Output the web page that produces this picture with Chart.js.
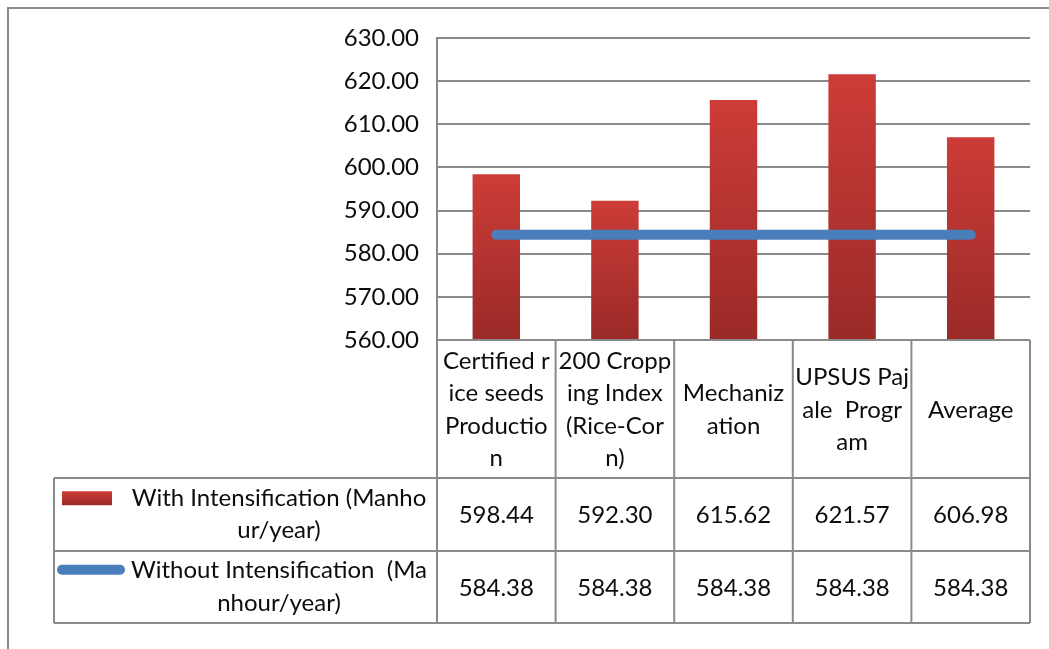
<!DOCTYPE html>
<html>
<head>
<meta charset="utf-8">
<script src="https://cdn.jsdelivr.net/npm/chart.js@4.4.1/dist/chart.umd.min.js"></script>
<style>
  html, body { margin: 0; padding: 0; background: #fff; }
  #wrap { width: 1049px; height: 649px; }
</style>
</head>
<body>
<div id="wrap"><canvas id="chart" width="1049" height="649"></canvas></div>
<script>
// Category labels, already broken the way the data table wraps them
const categories = [
    ['Certified r', 'ice seeds', 'Productio', 'n'],
    ['200 Cropp', 'ing Index', '(Rice-Cor', 'n)'],
    ['Mechaniz', 'ation'],
    ['UPSUS Paj', 'ale  Progr', 'am'],
    ['Average']
];

// Series values (manhour/year)
const withIntensification = [598.44, 592.30, 615.62, 621.57, 606.98];
const withoutIntensification = [584.38, 584.38, 584.38, 584.38, 584.38];

// Series names as shown in the table's legend column
const seriesNames = [
    ['With Intensification (Manho', 'ur/year)'],
    ['Without Intensification  (Ma', 'nhour/year)']
];

// Value axis
const yMin = 560;
const yMax = 630;
const yStep = 10;

const FONT = '24px Lato';
const TEXT = '#0d0d0d';
const LINE = '#8a8a8a';
const BLUE = '#4a7ebb';

function redGradient(ctx, top, bottom) {
    const g = ctx.createLinearGradient(0, top, 0, bottom);
    g.addColorStop(0, '#cd3c38');
    g.addColorStop(1, '#9a2a27');
    return g;
}

// Outer frame of the chart object
const framePlugin = {
    id: 'frame',
    beforeDraw(chart) {
        const ctx = chart.ctx;
        ctx.save();
        ctx.fillStyle = '#fff';
        ctx.fillRect(0, 0, chart.width, chart.height);
        ctx.strokeStyle = LINE;
        ctx.lineWidth = 2;
        ctx.strokeRect(8, 8, chart.width + 20, chart.height + 20);
        ctx.restore();
    }
};

// Data table under the plot
const tablePlugin = {
    id: 'dataTable',
    afterDraw(chart) {
        const ctx = chart.ctx;
        const area = chart.chartArea;
        const xs = chart.scales.x;
        const n = categories.length;
        const legendLeft = 54;
        const headerBottom = area.bottom + 138;
        const row1Bottom = headerBottom + 73;
        const row2Bottom = row1Bottom + 72;

        // column edges from the category scale
        const centers = categories.map((c, i) => xs.getPixelForValue(i));
        const edges = [area.left];
        for (let i = 1; i < n; i++) edges.push((centers[i - 1] + centers[i]) / 2);
        edges.push(area.right);

        ctx.save();
        ctx.strokeStyle = LINE;
        ctx.lineWidth = 2;
        ctx.beginPath();
        // horizontal lines
        ctx.moveTo(area.left, area.bottom); ctx.lineTo(area.right, area.bottom);
        [headerBottom, row1Bottom, row2Bottom].forEach(y => {
            ctx.moveTo(legendLeft, y); ctx.lineTo(area.right, y);
        });
        // vertical lines
        edges.forEach(x => { ctx.moveTo(x, area.bottom); ctx.lineTo(x, row2Bottom); });
        ctx.moveTo(legendLeft, headerBottom); ctx.lineTo(legendLeft, row2Bottom);
        ctx.stroke();

        ctx.fillStyle = TEXT;
        ctx.font = FONT;
        ctx.textAlign = 'center';
        ctx.textBaseline = 'middle';
        const lh = 32.5;

        // header cells
        const headMid = (area.bottom + headerBottom) / 2 + 1;
        categories.forEach((lines, i) => {
            const y0 = headMid - (lines.length - 1) * lh / 2;
            lines.forEach((t, k) => ctx.fillText(t, centers[i], y0 + k * lh));
        });

        // value rows
        const rows = [
            { vals: withIntensification, top: headerBottom, bottom: row1Bottom },
            { vals: withoutIntensification, top: row1Bottom, bottom: row2Bottom }
        ];
        rows.forEach((r, ri) => {
            const mid = (r.top + r.bottom) / 2;
            r.vals.forEach((v, i) => ctx.fillText(v.toFixed(2), centers[i], mid + 1));
            const names = seriesNames[ri];
            const y0 = mid - (names.length - 1) * lh / 2;
            names.forEach((t, k) => ctx.fillText(t, 279, y0 + k * lh));
            // legend keys
            if (ri === 0) {
                ctx.fillStyle = redGradient(ctx, y0 - 7, y0 + 7);
                ctx.fillRect(62, y0 - 7, 50, 14);
                ctx.fillStyle = TEXT;
            } else {
                ctx.strokeStyle = BLUE;
                ctx.lineWidth = 10;
                ctx.lineCap = 'round';
                ctx.beginPath();
                ctx.moveTo(62, y0 - 1);
                ctx.lineTo(120, y0 - 1);
                ctx.stroke();
            }
        });
        ctx.restore();
    }
};

const ctx = document.getElementById('chart').getContext('2d');
const chart = new Chart(ctx, {
    type: 'bar',
    data: {
        labels: categories,
        datasets: [
            {
                type: 'line',
                label: seriesNames[1].join(''),
                data: withoutIntensification,
                borderColor: BLUE,
                borderWidth: 10,
                borderCapStyle: 'round',
                pointRadius: 0,
                tension: 0,
                order: 0
            },
            {
                type: 'bar',
                label: seriesNames[0].join(''),
                data: withIntensification,
                backgroundColor: function(c) {
                    const ch = c.chart;
                    if (!ch.chartArea || c.type !== 'data') return '#b83331';
                    const top = ch.scales.y.getPixelForValue(c.raw);
                    return redGradient(ch.ctx, top, ch.chartArea.bottom);
                },
                borderWidth: 0,
                categoryPercentage: 1,
                barPercentage: 0.4,
                order: 1
            }
        ]
    },
    options: {
        responsive: false,
        animation: false,
        layout: {
            padding: { left: 0, top: 38, right: 19, bottom: 309 }
        },
        plugins: {
            legend: { display: false },
            tooltip: { enabled: false }
        },
        scales: {
            x: { display: false },
            y: {
                min: yMin,
                max: yMax,
                afterFit: function(scale) { scale.width = 437; },
                border: { display: true, color: LINE, width: 2 },
                grid: { color: LINE, lineWidth: 2, drawTicks: false },
                ticks: {
                    stepSize: yStep,
                    padding: 18,
                    color: TEXT,
                    font: { family: 'Lato', size: 24 },
                    callback: v => Number(v).toFixed(2)
                }
            }
        }
    },
    plugins: [framePlugin, tablePlugin]
});
</script>
</body>
</html>
